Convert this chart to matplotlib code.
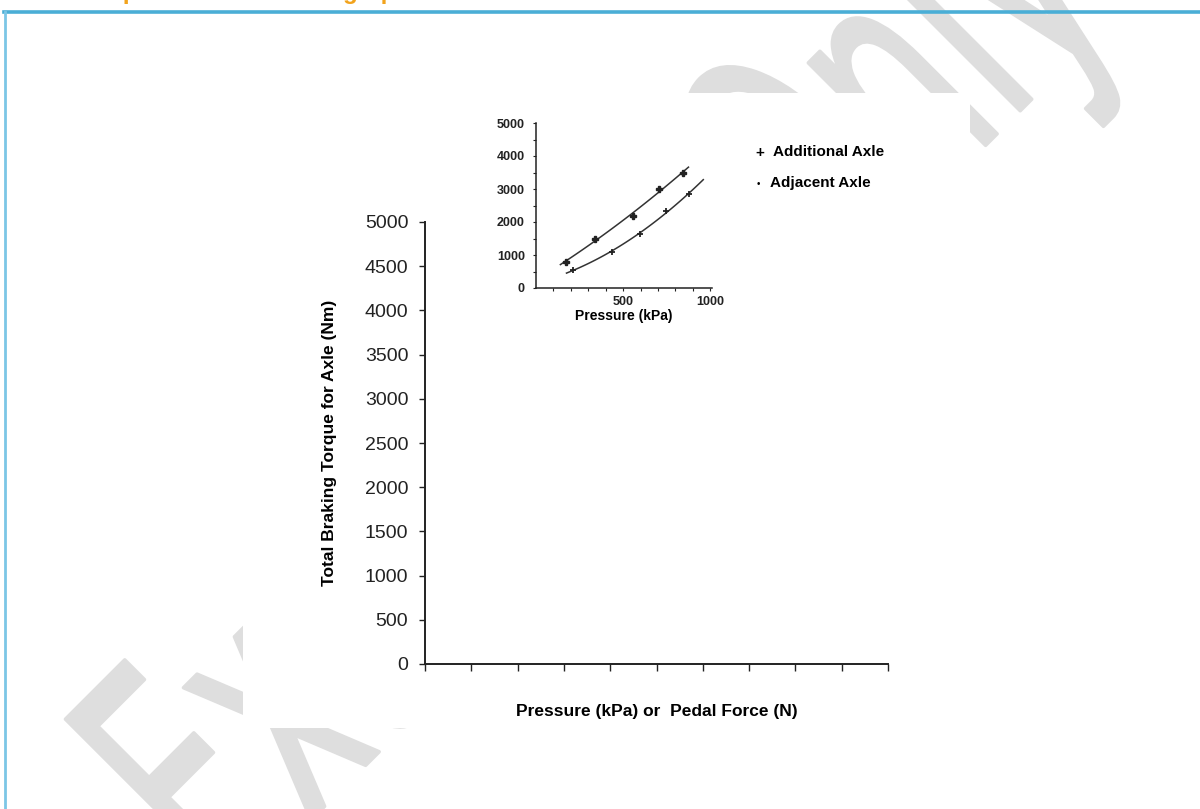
import numpy as np
import matplotlib
matplotlib.use("Agg")
import matplotlib.pyplot as plt
from matplotlib.patches import Rectangle, PathPatch
from matplotlib.textpath import TextPath
from matplotlib.font_manager import FontProperties
from matplotlib.transforms import Affine2D

plt.rcParams['font.family'] = ['Liberation Sans', 'DejaVu Sans']

# main chart scales (no data drawn on it, axes only)
main_yticks = [0, 500, 1000, 1500, 2000, 2500, 3000, 3500, 4000, 4500, 5000]
main_xticks = list(range(0, 11))

# inset: braking torque vs line pressure
add_pressure = [170, 340, 555, 705, 845]
add_torque = [800, 1480, 2180, 2990, 3500]
adj_pressure = [215, 435, 595, 745, 880]
adj_torque = [550, 1100, 1640, 2340, 2850]
add_fit_range = (140, 875)
adj_fit_range = (175, 960)

inset_yticks = [0, 1000, 2000, 3000, 4000, 5000]
inset_xticks = [500, 1000]

W, H = 1200, 809
fig = plt.figure(figsize=(12, 8.09), dpi=100)


def fx(px):
    return px / W


def fy(py):
    return 1 - py / H


# page title (mostly cut off at the top edge)
fig.text(fx(8), fy(-1), "Brake torque characteristics graph results",
         color="#f2a31c", fontsize=17.5, fontweight="bold", ha="left", va="baseline")

# cyan frame
fig.add_artist(plt.Line2D([fx(4), fx(1205)], [fy(12), fy(12)], color="#4aaed6", lw=2.6))
fig.add_artist(plt.Line2D([fx(5), fx(5)], [fy(12), fy(815)], color="#7cc6e6", lw=2))

# watermark: condensed text path, rotated 45 deg, in pixel coordinates
tp = TextPath((0, 0), "Example Only", size=1, prop=FontProperties(family="DejaVu Sans"))
wm_tr = Affine2D().scale(182, 336).rotate_deg(45).translate(226, H - 905)
fig.add_artist(PathPatch(tp, transform=wm_tr, facecolor="#dedede", edgecolor="#dedede",
                         lw=2.5, joinstyle="round", capstyle="round", zorder=0))

# scanned page area covers the watermark
fig.add_artist(Rectangle((fx(243), fy(728)), fx(970) - fx(243), fy(93) - fy(728),
                         facecolor="white", edgecolor="none", zorder=1))

# main axes
ax = fig.add_axes([fx(425), fy(664), fx(888) - fx(425), fy(222) - fy(664)], zorder=2)
ax.patch.set_alpha(0)
ax.set_xlim(0, 10)
ax.set_ylim(0, 5000)
ax.set_yticks(main_yticks)
ax.set_xticks(main_xticks)
ax.set_xticklabels([])
ax.spines[['top', 'right']].set_visible(False)
for s in ['left', 'bottom']:
    ax.spines[s].set_linewidth(1.4)
    ax.spines[s].set_color("#222222")
ax.tick_params(axis='y', length=4, width=1, labelsize=14, pad=8, colors="#222222")
ax.tick_params(axis='x', length=5, width=1, colors="#222222")
ax.set_ylabel("Total Braking Torque for Axle (Nm)", fontsize=12.5, fontweight="bold",
              labelpad=20)
ax.set_xlabel("Pressure (kPa) or  Pedal Force (N)", fontsize=12.5, fontweight="bold",
              labelpad=20)

# inset axes
ins = fig.add_axes([fx(536), fy(288), fx(712) - fx(536), fy(123) - fy(288)], zorder=3)
ins.patch.set_alpha(0)
ins.set_xlim(0, 1010)
ins.set_ylim(0, 5000)
ins.set_yticks(inset_yticks)
ins.set_yticks(np.arange(500, 5000, 1000), minor=True)
ins.set_xticks(inset_xticks)
ins.set_xticks(np.arange(100, 1000, 100), minor=True)
ins.spines[['top', 'right']].set_visible(False)
for s in ['left', 'bottom']:
    ins.spines[s].set_linewidth(1.1)
    ins.spines[s].set_color("#222222")
ins.tick_params(which='both', length=2, width=0.8, colors="#222222")
ins.tick_params(axis='both', labelsize=9)
ins.tick_params(axis='y', pad=6)
for lab in ins.get_xticklabels() + ins.get_yticklabels():
    lab.set_fontweight("bold")
ins.set_xlabel("Pressure (kPa)", fontsize=10, fontweight="bold", labelpad=1)

for px, ty, rng in [(add_pressure, add_torque, add_fit_range),
                    (adj_pressure, adj_torque, adj_fit_range)]:
    c = np.polyfit(px, ty, 2)
    xs = np.linspace(rng[0], rng[1], 100)
    ins.plot(xs, np.polyval(c, xs), color="#333333", lw=1.1)

ins.plot(add_pressure, add_torque, ls="none", marker="P", ms=4.5, color="#222222")
ins.plot(adj_pressure, adj_torque, ls="none", marker="+", ms=4, mew=1.3, color="#222222")

# legend beside the inset
fig.text(fx(760), fy(153), "+", fontsize=11, fontweight="bold", ha="center", va="center")
fig.text(fx(773), fy(152), "Additional Axle", fontsize=11, fontweight="bold",
         ha="left", va="center")
fig.text(fx(758), fy(184), "\u2022", fontsize=7, ha="center", va="center")
fig.text(fx(770), fy(183), "Adjacent Axle", fontsize=11, fontweight="bold",
         ha="left", va="center")

fig.savefig("out.png", dpi=100, facecolor="white")
